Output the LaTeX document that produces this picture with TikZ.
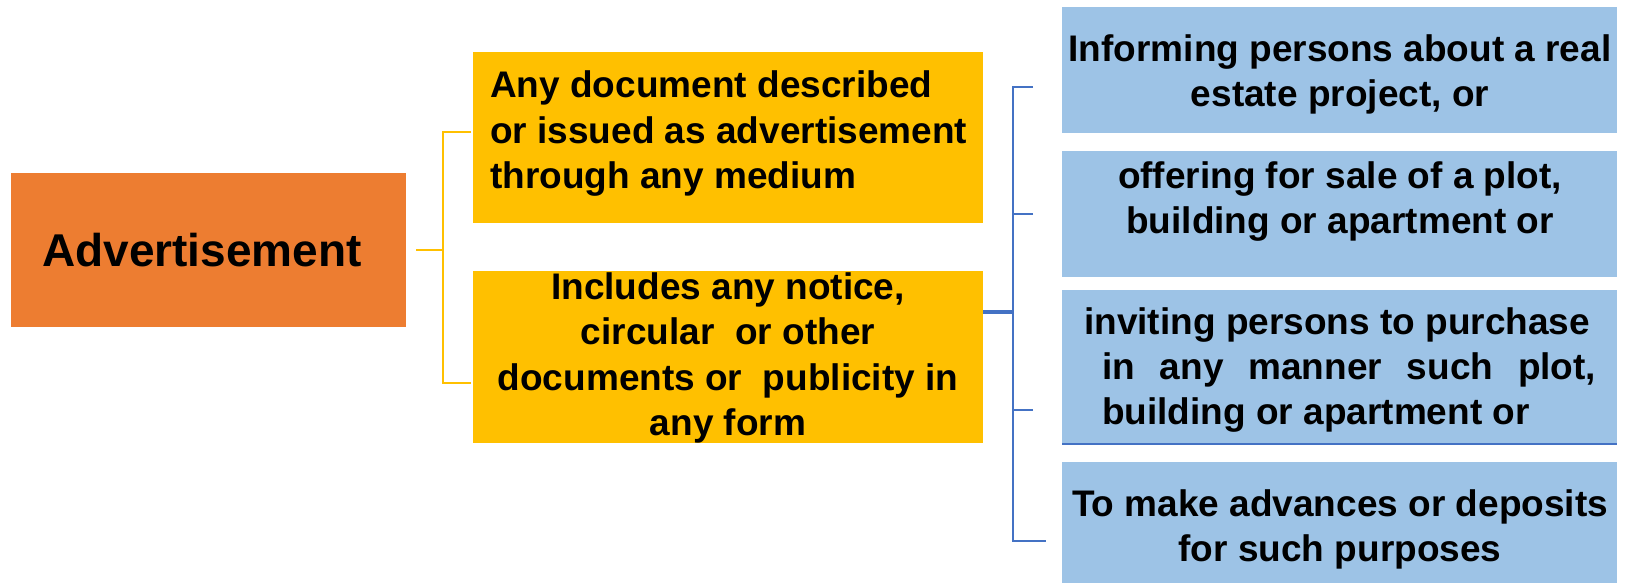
\documentclass[tikz,border=0pt]{standalone}
\usepackage{fontspec}
\setmainfont{Liberation Sans}
\usetikzlibrary{calc}
\definecolor{orangeA}{HTML}{ED7D31}
\definecolor{goldA}{HTML}{FFC000}
\definecolor{blueA}{HTML}{9DC3E6}
\definecolor{blueL}{HTML}{4472C4}
\begin{document}
\begin{tikzpicture}[x=1pt,y=-1pt,
  box/.style={rectangle, inner sep=0pt, outer sep=0pt, draw=none},
  txtA/.style={inner sep=0pt, font=\fontsize{46}{55}\selectfont\bfseries},
  txtY/.style={inner sep=0pt, font=\fontsize{37}{45.5}\selectfont\bfseries},
  txtB/.style={inner sep=0pt, font=\fontsize{37}{45}\selectfont\bfseries},
  yline/.style={draw=goldA, line width=2.5pt},
  bline/.style={draw=blueL, line width=2pt},
  bthick/.style={draw=blueL, line width=4pt}]
\useasboundingbox (0,0) rectangle (1633,583);
% boxes
\node[box, fill=orangeA, minimum width=395pt, minimum height=154pt] (adv) at (208.5,250) {};
\node[box, fill=goldA, minimum width=510pt, minimum height=171pt] (y1) at (728,137.5) {};
\node[box, fill=goldA, minimum width=510pt, minimum height=172pt] (y2) at (728,357) {};
\node[box, fill=blueA, minimum width=555pt, minimum height=126pt] (b1) at (1339.5,70) {};
\node[box, fill=blueA, minimum width=555pt, minimum height=126pt] (b2) at (1339.5,214) {};
\node[box, fill=blueA, minimum width=555pt, minimum height=154pt] (b3) at (1339.5,367) {};
\node[box, fill=blueA, minimum width=555pt, minimum height=121pt] (b4) at (1339.5,522.5) {};
\draw[bline] (b3.south west) -- (b3.south east);
% texts
\node[txtA] (advt) at (202,250) {Advertisement};
\node[txtY, anchor=west, align=left] (y1t) at (490,134) {Any document described\\or issued as advertisement\\through any medium};
\node[txtY, align=center] (y2t) at (728,358) {Includes any notice,\\circular\ \ or other\\documents or\ \ publicity in\\any form};
\node[txtB, align=center] (b1t) at (1340,74) {Informing persons about a real\\estate project, or};
\node[txtB, align=center] (b2t) at (1340,202) {offering for sale of a plot,\\building or apartment or};
\node[txtB, anchor=west, align=left] (b3t) at (1084,370) {inviting persons to purchase\\\hspace*{18pt}\makebox[494pt][s]{in any manner such plot,}\\\hspace*{18pt}building or apartment or};
\node[txtB, align=center] (b4t) at (1340,529) {To make advances or deposits\\for such purposes};
% yellow connector
\draw[yline] ([xshift=10pt]adv.east) -- ++(27,0) coordinate (yj);
\draw[yline] ([xshift=-2pt,yshift=5.5pt]y1.west) -| (yj) |- ([xshift=-2pt,yshift=-26pt]y2.west);
% blue connector
\draw[bthick] ([yshift=45pt]y2.east) -- ++(30,0) coordinate (bj);
\draw[bline] ([xshift=-29pt,yshift=-17pt]b1.west) -| (bj) |- ([xshift=-16pt,yshift=-18.5pt]b4.west);
\draw[bline] ([xshift=-29pt]b2.west) -- (bj |- b2.west);
\draw[bline] ([xshift=-29pt,yshift=-43pt]b3.west) -- ++(-20,0);
\end{tikzpicture}
\end{document}
